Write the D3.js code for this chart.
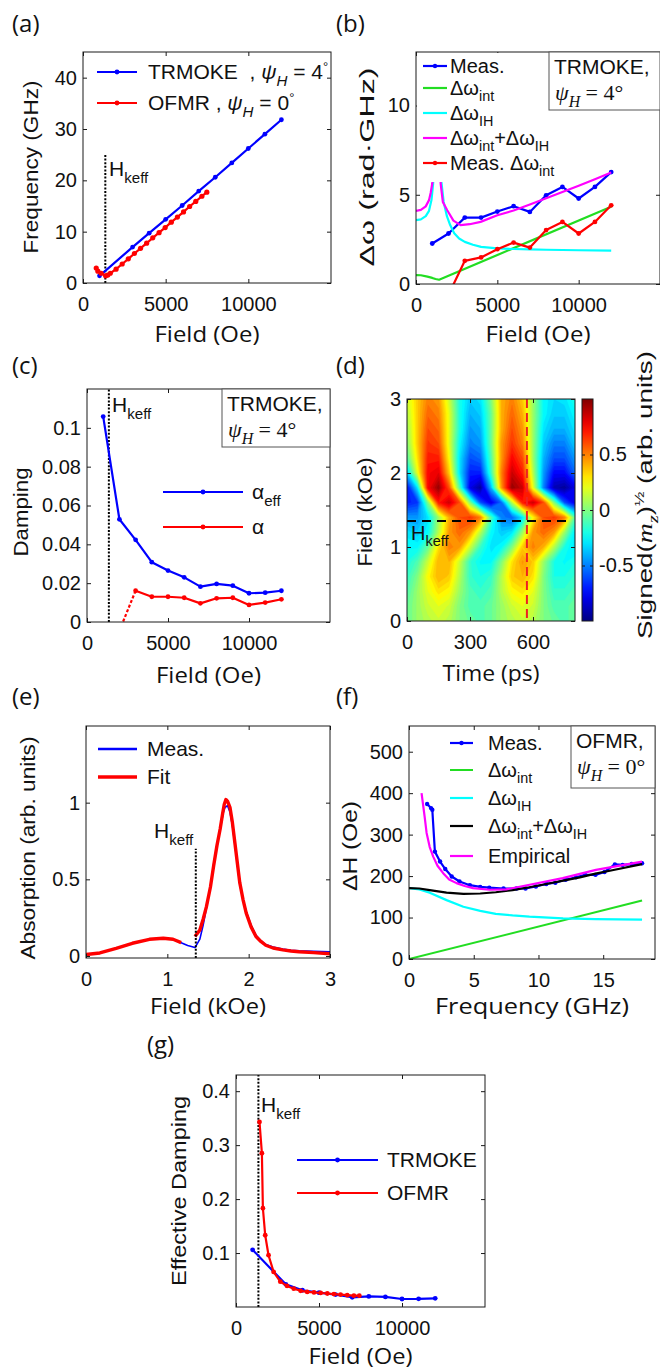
<!DOCTYPE html>
<html>
<head>
<meta charset="utf-8">
<script src="https://cdn.jsdelivr.net/npm/d3@7"></script>
<style>
  body { margin: 0; background: #fff; }
  svg text { fill: #111; }
</style>
</head>
<body>
<svg id="fig" width="660" height="1370"></svg>
<script>
// ---------- data ----------
var hKeff = 1350; // Oe

var fieldTicks = [0, 5000, 10000];

// (a) frequency vs field
var aTrmokeField = [1000, 3000, 4000, 5000, 6000, 7000, 8000, 9000, 10000, 11000, 12000];
var aTrmokeFreq = [1.4, 7.0, 9.7, 12.4, 15.1, 17.9, 20.6, 23.4, 26.2, 29.0, 31.8];
var aOfmrField = [800, 900, 1100, 1370, 1500, 1650, 2000, 2370, 2740, 3110, 3480, 3850, 4220, 4600, 4970, 5340, 5710, 6080, 6450, 6820, 7190, 7490];
var aOfmrFreq = [2.9, 2.3, 1.9, 1.4, 1.55, 1.9, 2.7, 3.7, 4.7, 5.75, 6.75, 7.75, 8.8, 9.8, 10.8, 11.85, 12.85, 13.85, 14.9, 15.9, 16.9, 17.7];
var aFreqTicks = [0, 10, 20, 30, 40];

// (b) linewidth vs field (TRMOKE)
var bMeasField = [1000, 2000, 3000, 4000, 5000, 6000, 7000, 8000, 9000, 10000, 11000, 12000];
var bMeas = [2.27, 2.83, 3.72, 3.72, 4.06, 4.36, 4.04, 4.97, 5.44, 4.79, 5.44, 6.27];
var bMeasIntField = [2000, 3000, 4000, 5000, 6000, 7000, 8000, 9000, 10000, 11000, 12000];
var bMeasInt = [-0.6, 1.30, 1.49, 1.95, 2.32, 2.04, 3.02, 3.48, 2.83, 3.48, 4.41];
var bIntField = [0, 300, 700, 1000, 1200, 1420, 12000];
var bInt = [0.50, 0.49, 0.41, 0.34, 0.28, 0.24, 4.33];
var bIHLowField = [0, 300, 600, 800, 950, 1050, 1150, 1250];
var bIHLow = [3.58, 3.62, 3.8, 4.1, 4.7, 5.6, 7.0, 10.0];
var bIHHighField = [1450, 1550, 1700, 1900, 2100, 2350, 2650, 3000, 3500, 4000, 5000, 6000, 7000, 8000, 10000, 12000];
var bIHHigh = [10.0, 5.8, 4.6, 3.8, 3.3, 2.85, 2.55, 2.36, 2.2, 2.08, 2.0, 1.96, 1.94, 1.92, 1.89, 1.87];
var bSumLowField = [0, 300, 600, 800, 900, 1000, 1100, 1250];
var bSumLow = [4.1, 4.15, 4.35, 4.7, 5.1, 5.63, 7.0, 10.0];
var bSumHighField = [1450, 1515, 1650, 1920, 2300, 2740, 3300, 3970, 5000, 6000, 7000, 8000, 9000, 10000, 11000, 12000];
var bSumHigh = [10.0, 5.63, 4.6, 4.13, 3.55, 3.30, 3.35, 3.48, 3.85, 4.12, 4.45, 4.8, 5.15, 5.5, 5.87, 6.25];
var bTicks = [0, 5, 10];

// (c) damping vs field
var cField = [1000, 2000, 3000, 4000, 5000, 6000, 7000, 8000, 9000, 10000, 11000, 12000];
var cAlphaEff = [0.1058, 0.0529, 0.0423, 0.0308, 0.0265, 0.0230, 0.0182, 0.0196, 0.0187, 0.0148, 0.0151, 0.0161];
var cAlphaField = [2000, 3000, 4000, 5000, 6000, 7000, 8000, 9000, 10000, 11000, 12000];
var cAlpha = [-0.0045, 0.0161, 0.0130, 0.0130, 0.0125, 0.0096, 0.0122, 0.0125, 0.0088, 0.0100, 0.0117];
var cTicks = [0, 0.02, 0.04, 0.06, 0.08, 0.1];

// (d) signed sqrt(m_z) map: rows = field (kOe), columns = time (ps)
var dTime = [0, 50, 100, 150, 200, 250, 300, 350, 400, 450, 500, 550, 600, 650, 700, 750, 800];
var dField = [0, 0.2, 0.4, 0.6, 0.8, 1.0, 1.2, 1.4, 1.6, 1.8, 2.0, 2.2, 2.4, 2.6, 2.8, 3.0];
var dSignal = [
  [-0.05, 0.05, 0.10, 0.15, 0.10, 0.00, -0.05, -0.10, -0.05, 0.05, 0.10, 0.15, 0.10, 0.00, -0.05, -0.10, -0.05],
  [-0.05, 0.05, 0.15, 0.20, 0.15, 0.00, -0.10, -0.10, -0.05, 0.05, 0.15, 0.20, 0.15, 0.00, -0.10, -0.10, -0.05],
  [-0.10, 0.05, 0.20, 0.30, 0.25, 0.05, -0.10, -0.15, -0.10, 0.10, 0.25, 0.30, 0.20, 0.00, -0.15, -0.15, -0.10],
  [-0.15, 0.00, 0.25, 0.40, 0.35, 0.10, -0.15, -0.20, -0.15, 0.10, 0.35, 0.40, 0.30, 0.00, -0.20, -0.20, -0.15],
  [-0.20, -0.10, 0.15, 0.40, 0.40, 0.15, -0.15, -0.25, -0.25, 0.00, 0.30, 0.45, 0.35, 0.05, -0.20, -0.25, -0.20],
  [-0.25, -0.25, -0.05, 0.30, 0.50, 0.45, 0.15, -0.15, -0.30, -0.25, 0.00, 0.35, 0.50, 0.40, 0.10, -0.20, -0.30],
  [-0.30, -0.35, -0.25, 0.10, 0.45, 0.55, 0.45, 0.10, -0.25, -0.35, -0.30, 0.05, 0.45, 0.55, 0.45, 0.05, -0.30],
  [-0.45, -0.45, -0.30, 0.05, 0.40, 0.60, 0.65, 0.50, -0.10, -0.50, -0.55, -0.30, 0.25, 0.60, 0.65, 0.50, -0.10],
  [-0.70, -0.65, 0.00, 0.70, 0.85, 0.60, 0.00, -0.60, -0.80, -0.55, 0.10, 0.70, 0.85, 0.60, 0.00, -0.60, -0.80],
  [-0.75, -0.30, 0.75, 0.95, 0.60, -0.10, -0.80, -0.95, -0.40, 0.45, 0.95, 0.85, 0.20, -0.50, -0.90, -0.95, -0.80],
  [-0.35, 0.20, 0.75, 0.80, 0.35, -0.30, -0.70, -0.70, -0.15, 0.50, 0.85, 0.70, 0.10, -0.45, -0.75, -0.75, -0.55],
  [-0.10, 0.30, 0.70, 0.70, 0.25, -0.30, -0.60, -0.55, -0.10, 0.45, 0.75, 0.60, 0.05, -0.40, -0.60, -0.60, -0.45],
  [0.00, 0.35, 0.65, 0.60, 0.20, -0.25, -0.50, -0.45, -0.05, 0.45, 0.65, 0.50, 0.05, -0.35, -0.50, -0.50, -0.35],
  [0.05, 0.35, 0.60, 0.55, 0.20, -0.20, -0.45, -0.40, -0.05, 0.40, 0.60, 0.45, 0.05, -0.30, -0.40, -0.40, -0.30],
  [0.10, 0.35, 0.55, 0.50, 0.20, -0.20, -0.40, -0.35, -0.05, 0.40, 0.55, 0.40, 0.05, -0.25, -0.35, -0.35, -0.25],
  [0.15, 0.35, 0.50, 0.45, 0.15, -0.20, -0.35, -0.30, 0.00, 0.40, 0.50, 0.35, 0.05, -0.25, -0.32, -0.30, -0.20]
];
var dCutTime = 571;     // ps, red dashed line
var dHkEndTime = 760;   // ps, end of black dashed line
var dTimeTicks = [0, 300, 600];
var dFieldTicks = [0, 1, 2, 3];
var cbTicks = [-0.5, 0, 0.5];

// (e) OFMR absorption spectrum
var eMeasField = [0, 0.17, 0.37, 0.45, 0.57, 0.78, 0.95, 1.07, 1.17, 1.25, 1.34, 1.40, 1.44, 1.48, 1.53, 1.57, 1.61, 1.65, 1.69, 1.71, 1.74, 1.77, 1.80, 1.83, 1.86, 1.89, 1.93, 1.97, 2.03, 2.09, 2.15, 2.21, 2.30, 2.42, 2.52, 2.62, 2.80, 3.00];
var eMeas = [0.01, 0.02, 0.05, 0.062, 0.083, 0.109, 0.116, 0.109, 0.087, 0.068, 0.055, 0.11, 0.20, 0.31, 0.45, 0.60, 0.72, 0.83, 0.94, 0.97, 0.98, 0.94, 0.85, 0.73, 0.60, 0.47, 0.37, 0.29, 0.20, 0.135, 0.10, 0.075, 0.058, 0.045, 0.038, 0.034, 0.03, 0.027];
var eFitLowField = [0, 0.17, 0.37, 0.57, 0.78, 0.95, 1.07, 1.17];
var eFitLow = [0.01, 0.02, 0.05, 0.083, 0.109, 0.116, 0.109, 0.087];
var eFitHighField = [1.34, 1.40, 1.44, 1.48, 1.53, 1.57, 1.61, 1.65, 1.68, 1.70, 1.72, 1.74, 1.77, 1.80, 1.83, 1.86, 1.89, 1.93, 1.97, 2.03, 2.09, 2.15, 2.21, 2.30, 2.42, 2.52, 2.62, 2.80, 3.00];
var eFitHigh = [0.127, 0.17, 0.24, 0.32, 0.45, 0.59, 0.72, 0.83, 0.93, 0.99, 1.02, 1.01, 0.97, 0.87, 0.74, 0.61, 0.48, 0.37, 0.28, 0.19, 0.127, 0.095, 0.07, 0.052, 0.04, 0.033, 0.028, 0.022, 0.015];
var eHkTop = 0.7;
var eFieldTicks = [0, 1, 2, 3];
var eTicks = [0, 0.5, 1];

// (f) OFMR linewidth vs frequency
var fMeasFreq = [1.4, 1.7, 1.8, 2.0, 2.4, 2.8, 3.3, 3.9, 4.7, 5.5, 6.2, 7.3, 8.3, 9.0, 9.8, 10.6, 11.3, 12.1, 12.9, 13.6, 14.4, 15.1, 15.9, 16.5, 17.2, 18.0];
var fMeas = [374, 364, 360, 259, 235, 217, 199, 187, 178, 174, 172, 170, 170, 170, 175, 181, 184, 191, 197, 203, 203, 210, 228, 227, 229, 231];
var fIntFreq = [0, 18];
var fInt = [0, 141];
var fIHFreq = [0, 0.8, 1.6, 2.9, 4.2, 5.5, 6.7, 8.0, 9.3, 11.9, 14.4, 18.0];
var fIH = [171, 168, 160, 142, 126, 116, 109, 105, 102, 98, 96, 95];
var fSumFreq = [0, 0.8, 1.6, 2.9, 4.2, 5.5, 6.7, 8.0, 9.3, 10.6, 11.9, 13.2, 14.4, 15.7, 18.0];
var fSum = [171, 170, 166, 160, 157, 158, 161, 166, 173, 181, 189, 197, 206, 214, 229];
var fEmpFreq = [0.97, 1.2, 1.36, 1.6, 1.87, 2.2, 2.64, 3.1, 3.67, 4.3, 4.95, 6.23, 7.51, 9.31, 11.87, 14.44, 18.0];
var fEmp = [400, 345, 304, 270, 247, 225, 207, 192, 183, 176, 171, 167, 168, 179, 195, 215, 235];
var fFreqTicks = [0, 5, 10, 15];
var fTicks = [0, 100, 200, 300, 400, 500];

// (g) effective damping, both techniques
var gTrmokeField = [1000, 3000, 4000, 5000, 6000, 7000, 8000, 9000, 10000, 11000, 12000];
var gTrmoke = [0.106, 0.042, 0.031, 0.0265, 0.023, 0.018, 0.0196, 0.0187, 0.0148, 0.0151, 0.0161];
var gOfmrField = [1415, 1560, 1620, 1760, 1960, 2265, 2670, 3075, 3480, 3890, 4290, 4700, 5100, 5500, 5900, 6300, 6700, 7100, 7430];
var gOfmr = [0.343, 0.285, 0.183, 0.133, 0.096, 0.065, 0.047, 0.039, 0.034, 0.030, 0.028, 0.027, 0.026, 0.025, 0.024, 0.023, 0.022, 0.021, 0.021];
var gTicks = [0.1, 0.2, 0.3, 0.4];

// ---------- drawing ----------
var SANS = "'Liberation Sans', Arial, Helvetica, sans-serif";
var HUM = "'Open Sans', Lato, sans-serif";
var SERIF = "'Liberation Serif', 'DejaVu Serif', serif";
var INK = "#1a1a1a";
var TICK_FS = 20;
var BLUE = "#0000ff", RED = "#ff0000", GREEN = "#22dd22", CYAN = "#00ffff", MAGENTA = "#ff00ff";

var svg = d3.select("#fig");
var defs = svg.append("defs");
var nClip = 0;

function rich(sel, fs, parts) {
  var cur = 0;
  parts.forEach(function(p) {
    var s = p[1] || "", off = 0, size = fs;
    if (s.indexOf("sub") >= 0) { off = 0.32 * fs; size = 0.72 * fs; }
    if (s.indexOf("sup") >= 0) { off = -0.42 * fs; size = 0.62 * fs; }
    var t = sel.append("tspan").attr("dy", off - cur).attr("font-size", size).text(p[0]);
    if (s.indexOf("it") >= 0) t.attr("font-style", "italic");
    if (p[2]) t.attr("font-family", p[2]);
    cur = off;
  });
}

function txt(parent, x, y, fs, parts, o) {
  o = o || {};
  var t = parent.append("text").attr("font-size", fs)
    .attr("font-family", o.font || SANS)
    .attr("text-anchor", o.anchor || "start");
  if (o.rotate) t.attr("transform", "translate(" + x + "," + y + ") rotate(-90)");
  else t.attr("x", x).attr("y", y);
  if (o.len) t.attr("textLength", o.len).attr("lengthAdjust", "spacingAndGlyphs");
  rich(t, fs, typeof parts === "string" ? [[parts]] : parts);
  return t;
}

function fmt(d) { return String(+d.toFixed(3)); }

function clean(s) {
  s.select(".domain").remove();
  s.selectAll(".tick line").attr("stroke", INK);
  s.selectAll("text").attr("font-size", TICK_FS).attr("font-family", SANS).attr("fill", INK);
}

function panel(o) {
  var x = d3.scaleLinear().domain(o.xd).range([o.l, o.r]);
  var y = d3.scaleLinear().domain(o.yd).range([o.b, o.t]);
  var id = "clip" + (nClip++);
  defs.append("clipPath").attr("id", id).append("rect")
    .attr("x", o.l).attr("y", o.t).attr("width", o.r - o.l).attr("height", o.b - o.t);
  var g = svg.append("g");
  var plot = g.append("g").attr("clip-path", "url(#" + id + ")");
  var axes = g.append("g");
  axes.append("g").attr("transform", "translate(0," + o.b + ")")
    .call(d3.axisBottom(x).tickValues(o.xt).tickSize(-4).tickPadding(14).tickFormat(fmt)).call(clean);
  axes.append("g").attr("transform", "translate(0," + o.t + ")")
    .call(d3.axisTop(x).tickValues(o.xt).tickSize(-4).tickFormat("")).call(clean);
  axes.append("g").attr("transform", "translate(" + o.l + ",0)")
    .call(d3.axisLeft(y).tickValues(o.yt).tickSize(-4).tickPadding(6).tickFormat(fmt)).call(clean);
  axes.append("g").attr("transform", "translate(" + o.r + ",0)")
    .call(d3.axisRight(y).tickValues(o.yt).tickSize(-4).tickFormat("")).call(clean);
  axes.append("rect").attr("x", o.l).attr("y", o.t)
    .attr("width", o.r - o.l).attr("height", o.b - o.t)
    .attr("fill", "none").attr("stroke", INK).attr("stroke-width", 1);
  var over = g.append("g");
  return {x: x, y: y, plot: plot, over: over, o: o};
}

function series(p, xs, ys, color, w, o) {
  o = o || {};
  var pts = xs.map(function(v, i) { return [p.x(v), p.y(ys[i])]; });
  p.plot.append("path").attr("d", d3.line()(pts))
    .attr("fill", "none").attr("stroke", color).attr("stroke-width", w)
    .attr("stroke-linejoin", "round").attr("stroke-dasharray", o.dash || null);
  if (o.marker) {
    p.plot.selectAll(null).data(pts).enter().append("circle")
      .attr("cx", function(d) { return d[0]; })
      .attr("cy", function(d) { return d[1]; })
      .attr("r", o.marker).attr("fill", color);
  }
}

function legendRow(p, x1, x2, y, color, w, marker, tx, parts, fs) {
  p.over.append("line").attr("x1", x1).attr("x2", x2).attr("y1", y).attr("y2", y)
    .attr("stroke", color).attr("stroke-width", w);
  if (marker) p.over.append("circle").attr("cx", (x1 + x2) / 2).attr("cy", y).attr("r", marker).attr("fill", color);
  txt(p.over, tx, y + fs * 0.35, fs, parts);
}

function hkLine(p, value, top) {
  var xv = p.x(value);
  p.plot.append("line").attr("x1", xv).attr("x2", xv)
    .attr("y1", p.o.b).attr("y2", top == null ? p.o.t : p.y(top))
    .attr("stroke", "#000").attr("stroke-width", 2).attr("stroke-dasharray", "2,1.6");
}

function hkLabel(p, x, y) {
  txt(p.over, x, y, 21, [["H"], ["keff", "sub"]]);
}

function infoBox(p, x1, y1, x2, y2, line1, angle, fs) {
  p.over.append("rect").attr("x", x1).attr("y", y1).attr("width", x2 - x1).attr("height", y2 - y1)
    .attr("fill", "#fff").attr("stroke", "#555").attr("stroke-width", 1);
  txt(p.over, x1 + 5, y1 + 22, fs, line1);
  txt(p.over, x1 + 6, y1 + 48, fs + 1, [["ψ", "it"], ["H", "sub it"], [" = " + angle + "°"]], {font: SERIF});
}

function xLabel(p, s, y, len) {
  txt(svg, (p.o.l + p.o.r) / 2, y, 21, s, {font: HUM, anchor: "middle", len: len});
}

function yLabel(x, cy, parts, len, fs) {
  txt(svg, x, cy, fs || 21, parts, {rotate: true, anchor: "middle", len: len});
}

function panelTag(x, y, s) {
  txt(svg, x, y, 24, s, {font: HUM});
}

// ----- (a) -----
var A = panel({l: 83, r: 331, t: 52, b: 283, xd: [0, 15000], yd: [0, 45], xt: fieldTicks, yt: aFreqTicks});
hkLine(A, hKeff, 25);
series(A, aTrmokeField, aTrmokeFreq, BLUE, 2.2, {marker: 2.4});
series(A, aOfmrField, aOfmrFreq, RED, 2.2, {marker: 2.6});
hkLabel(A, 109, 176);
legendRow(A, 97, 137, 72, BLUE, 2.2, 2.4, 148, [["TRMOKE\u00a0 , "], ["ψ", "it"], ["H", "sub it"], [" = 4"], ["°", "sup"]], 21);
legendRow(A, 97, 137, 103, RED, 2.2, 2.4, 148, [["OFMR , "], ["ψ", "it"], ["H", "sub it"], [" = 0"], ["°", "sup"]], 21);
xLabel(A, "Field (Oe)", 342, 105);
yLabel(38, 167, "Frequency (GHz)", 173);
panelTag(12, 32, "(a)");

// ----- (b) -----
var B = panel({l: 416, r: 660, t: 52, b: 284, xd: [0, 15000], yd: [0, 13], xt: fieldTicks, yt: bTicks});
series(B, bMeasField, bMeas, BLUE, 2.2, {marker: 2.4});
series(B, bIntField, bInt, GREEN, 2.2);
series(B, bIHLowField, bIHLow, CYAN, 2.2);
series(B, bIHHighField, bIHHigh, CYAN, 2.2);
series(B, bSumLowField, bSumLow, MAGENTA, 2.2);
series(B, bSumHighField, bSumHigh, MAGENTA, 2.2);
series(B, bMeasIntField, bMeasInt, RED, 2.2, {marker: 2.4});
B.over.append("rect").attr("x", 417).attr("y", 53).attr("width", 146).attr("height", 129).attr("fill", "#fff");
legendRow(B, 423, 447, 66, BLUE, 2.2, 2.2, 450, "Meas.", 20);
legendRow(B, 423, 447, 88, GREEN, 2.2, 0, 450, [["Δω"], ["int", "sub"]], 20);
legendRow(B, 423, 447, 113, CYAN, 2.2, 0, 450, [["Δω"], ["IH", "sub"]], 20);
legendRow(B, 423, 447, 138, MAGENTA, 2.2, 0, 450, [["Δω"], ["int", "sub"], ["+Δω"], ["IH", "sub"]], 20);
legendRow(B, 423, 447, 163, RED, 2.2, 2.2, 450, [["Meas. Δω"], ["int", "sub"]], 20);
infoBox(B, 549, 52, 660, 110, "TRMOKE,", 4, 21);
xLabel(B, "Field (Oe)", 342, 105);
yLabel(374, 167, "Δω (rad·GHz)", 199);
panelTag(336, 32, "(b)");

// ----- (c) -----
var C = panel({l: 87, r: 330, t: 389, b: 622, xd: [0, 15000], yd: [0, 0.12], xt: fieldTicks, yt: cTicks});
hkLine(C, hKeff);
series(C, cField, cAlphaEff, BLUE, 2.2, {marker: 2.4});
series(C, cAlphaField.slice(0, 2), cAlpha.slice(0, 2), RED, 2.2, {dash: "3,2"});
series(C, cAlphaField.slice(1), cAlpha.slice(1), RED, 2.2, {marker: 2.4});
hkLabel(C, 112, 412);
infoBox(C, 222, 389, 330, 447, "TRMOKE,", 4, 21);
legendRow(C, 163, 243, 492, BLUE, 2.2, 2.4, 252, [["α"], ["eff", "sub"]], 21);
legendRow(C, 163, 243, 527, RED, 2.2, 2.4, 252, "α", 21);
xLabel(C, "Field (Oe)", 683, 105);
yLabel(28, 512, "Damping", 89);
panelTag(12, 374, "(c)");

// ----- (d) -----
function jet(v) {
  var t = (v + 1) / 2;
  function c(u) { return Math.max(0, Math.min(1, u)); }
  return d3.rgb(255 * c(Math.min(4 * t - 1.5, -4 * t + 4.5)),
                255 * c(Math.min(4 * t - 0.5, -4 * t + 3.5)),
                255 * c(Math.min(4 * t + 0.5, -4 * t + 2.5))) + "";
}

var D = panel({l: 407, r: 575, t: 399, b: 621, xd: [0, 800], yd: [0, 3], xt: dTimeTicks, yt: dFieldTicks});
var levels = d3.range(-1, 1.0001, 0.04);
var flat = [].concat.apply([], dSignal);
var tStep = dTime[1] - dTime[0], hStep = dField[1] - dField[0];
var gridToPlot = d3.geoTransform({
  point: function(px, py) {
    this.stream.point(D.x(dTime[0] + (px - 0.5) * tStep), D.y(dField[0] + (py - 0.5) * hStep));
  }
});
var bands = d3.contours().size([dTime.length, dField.length]).thresholds(levels)(flat);
D.plot.insert("g", ":first-child").selectAll("path").data(bands).enter().append("path")
  .attr("d", d3.geoPath(gridToPlot))
  .attr("fill", function(d) { return jet(d.value + 0.02); })
  .attr("stroke", function(d) { return jet(d.value + 0.02); })
  .attr("stroke-width", 0.3);
D.plot.append("line")
  .attr("x1", D.x(0)).attr("x2", D.x(dHkEndTime))
  .attr("y1", D.y(hKeff / 1000)).attr("y2", D.y(hKeff / 1000))
  .attr("stroke", "#000").attr("stroke-width", 2).attr("stroke-dasharray", "9,6");
D.plot.append("line")
  .attr("x1", D.x(dCutTime)).attr("x2", D.x(dCutTime))
  .attr("y1", 399).attr("y2", 621)
  .attr("stroke", "#f02020").attr("stroke-width", 2).attr("stroke-dasharray", "9,5");
txt(D.over, 411, 540, 20, [["H"], ["keff", "sub"]]);
xLabel(D, "Time (ps)", 681, 97);
yLabel(372, 512, "Field (kOe)", 109);
panelTag(336, 374, "(d)");

// colorbar
var grad = defs.append("linearGradient").attr("id", "jetGrad")
  .attr("x1", 0).attr("y1", 1).attr("x2", 0).attr("y2", 0);
d3.range(0, 21).forEach(function(i) {
  grad.append("stop").attr("offset", i / 20).attr("stop-color", jet(-1 + i / 10));
});
var cb = d3.scaleLinear().domain([-1, 1]).range([621, 399]);
var cbg = svg.append("g");
cbg.append("rect").attr("x", 582).attr("y", 399).attr("width", 11).attr("height", 222).attr("fill", "url(#jetGrad)");
cbg.append("g").attr("transform", "translate(593,0)")
  .call(d3.axisRight(cb).tickValues(cbTicks).tickSize(-3).tickPadding(6).tickFormat(fmt)).call(clean);
cbg.append("g").attr("transform", "translate(582,0)")
  .call(d3.axisLeft(cb).tickValues(cbTicks).tickSize(-3).tickFormat("")).call(clean);
cbg.append("rect").attr("x", 582).attr("y", 399).attr("width", 11).attr("height", 222)
  .attr("fill", "none").attr("stroke", INK);
yLabel(652, 495, [["Signed"], ["("], ["m", "it", SERIF], ["z", "sub it", SERIF], [")"], ["½", "sup"], [" (arb. units)"]], 288, 20);

// ----- (e) -----
var E = panel({l: 86, r: 330, t: 726, b: 958, xd: [0, 3], yd: [-0.013, 1.5], xt: eFieldTicks, yt: eTicks});
series(E, eMeasField, eMeas, BLUE, 1.6);
series(E, eFitLowField, eFitLow, RED, 3.4);
series(E, eFitHighField, eFitHigh, RED, 3.4);
hkLine(E, hKeff / 1000, eHkTop);
hkLabel(E, 154, 838);
legendRow(E, 98, 137, 749, BLUE, 2.4, 0, 147, "Meas.", 21);
legendRow(E, 98, 137, 777, RED, 3.4, 0, 147, "Fit", 21);
xLabel(E, "Field (kOe)", 1014, 116);
yLabel(35, 848, "Absorption (arb. units)", 223);
panelTag(12, 705, "(e)");

// ----- (f) -----
var F = panel({l: 409, r: 655, t: 726, b: 959, xd: [0, 19], yd: [0, 562], xt: fFreqTicks, yt: fTicks});
series(F, fMeasFreq, fMeas, BLUE, 2.2, {marker: 2.2});
series(F, fIntFreq, fInt, GREEN, 2);
series(F, fIHFreq, fIH, CYAN, 2.2);
series(F, fSumFreq, fSum, "#000", 2.2);
series(F, fEmpFreq, fEmp, MAGENTA, 2.2);
legendRow(F, 450, 473, 743, BLUE, 2.2, 2.2, 488, "Meas.", 20);
legendRow(F, 450, 473, 770, GREEN, 2, 0, 488, [["Δω"], ["int", "sub"]], 20);
legendRow(F, 450, 473, 798, CYAN, 2.2, 0, 488, [["Δω"], ["IH", "sub"]], 20);
legendRow(F, 450, 473, 826, "#000", 2.2, 0, 488, [["Δω"], ["int", "sub"], ["+Δω"], ["IH", "sub"]], 20);
legendRow(F, 450, 473, 856, MAGENTA, 2.2, 0, 488, "Empirical", 20);
infoBox(F, 571, 726, 655, 788, "OFMR,", 0, 21);
xLabel(F, "Frequency (GHz)", 1014, 194);
yLabel(357, 846, "ΔH (Oe)", 90);
panelTag(336, 705, "(f)");

// ----- (g) -----
var G = panel({l: 236, r: 485, t: 1075, b: 1307, xd: [0, 15000], yd: [0, 0.43], xt: fieldTicks, yt: gTicks});
hkLine(G, hKeff);
series(G, gTrmokeField, gTrmoke, BLUE, 2.2, {marker: 2.4});
series(G, gOfmrField, gOfmr, RED, 2.2, {marker: 2.4});
hkLabel(G, 261, 1112);
legendRow(G, 297, 378, 1160, BLUE, 2.2, 2.4, 387, "TRMOKE", 21);
legendRow(G, 297, 378, 1193, RED, 2.2, 2.4, 387, "OFMR", 21);
xLabel(G, "Field (Oe)", 1364, 104);
yLabel(186, 1191, "Effective Damping", 190);
panelTag(147, 1053, "(g)");
</script>
</body>
</html>
